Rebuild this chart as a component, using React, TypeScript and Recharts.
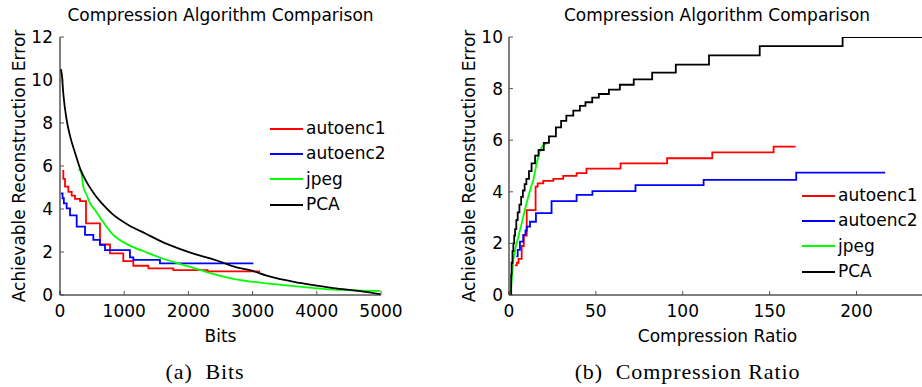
import { LineChart, Line, XAxis, YAxis, Legend, Label } from 'recharts';

const FONT = '"DejaVu Sans", sans-serif';

const seriesNames = ['autoenc1', 'autoenc2', 'jpeg', 'PCA'];

// (a) error against bits
const pcaBits = [15, 30, 52, 104, 156, 234, 312, 441, 545, 649, 805, 1064, 1324, 1584, 1843, 2103, 2363, 2545, 2700, 3000, 3220, 3738, 4257, 4700, 4990];
const pcaBitsErr = [10.5, 10.2, 9.35, 8.14, 7.4, 6.62, 5.89, 5.12, 4.65, 4.27, 3.8, 3.26, 2.87, 2.48, 2.17, 1.9, 1.68, 1.5, 1.33, 1.12, 0.9, 0.56, 0.32, 0.17, 0.04];
const ae1Bits = [36, 52, 78, 130, 182, 234, 312, 405, 623, 779, 986, 1142, 1376, 1765, 2300, 3115];
const ae1BitsErr = [5.77, 5.4, 5.04, 4.8, 4.62, 4.47, 4.37, 3.33, 2.35, 1.94, 1.58, 1.36, 1.24, 1.16, 1.1, 1.1];
const ae2Bits = [16, 40, 60, 104, 156, 260, 390, 519, 623, 701, 1090, 1142, 1557, 3011];
const ae2BitsErr = [4.73, 4.5, 4.26, 4.03, 3.7, 3.18, 2.8, 2.56, 2.33, 2.09, 1.75, 1.63, 1.47, 1.47];
const jpegBits = [286, 312, 338, 363, 415, 467, 545, 649, 805, 1064, 1324, 1584, 1843, 2103, 2300, 2700, 3220, 3738, 4257, 4700, 4990];
const jpegBitsErr = [5.81, 5.81, 5.58, 5.04, 4.65, 4.27, 3.95, 3.49, 2.87, 2.33, 2.01, 1.71, 1.47, 1.24, 1.05, 0.75, 0.54, 0.39, 0.25, 0.2, 0.19];

// (b) error against compression ratio
const pcaRatio = [1, 1.25, 1.5, 2, 2.5, 3, 3.5, 4.2, 5, 6, 7, 8, 9, 10, 11.5, 13, 15, 17, 20, 23, 27, 30, 33, 37, 40.8, 44, 47.9, 51.7, 57.5, 63.8, 71.8, 82.4, 96, 115.1, 144.3, 192, 240];
const pcaRatioErr = [0, 0.8, 1.25, 1.7, 2.0, 2.3, 2.55, 2.9, 3.2, 3.5, 3.8, 4.05, 4.3, 4.5, 4.8, 5.1, 5.4, 5.62, 5.9, 6.15, 6.5, 6.75, 6.95, 7.15, 7.33, 7.47, 7.65, 7.79, 7.96, 8.15, 8.36, 8.62, 8.93, 9.29, 9.65, 10.0, 10.0];
const ae1Ratio = [3.4, 4.5, 5.5, 7.3, 8.5, 10.2, 15.3, 16.5, 19.7, 25.5, 31.2, 38.9, 44.6, 64.2, 91, 117, 152.3, 165];
const ae1RatioErr = [1.15, 1.25, 1.4, 1.9, 2.3, 3.29, 4.2, 4.33, 4.42, 4.5, 4.62, 4.72, 4.9, 5.1, 5.3, 5.53, 5.75, 5.75];
const ae2Ratio = [4.2, 5, 6.3, 8.2, 9.5, 10.2, 12.1, 15.5, 24.5, 38.9, 48, 72.8, 112, 165.3, 216.5];
const ae2RatioErr = [1.5, 1.75, 2.07, 2.33, 2.5, 2.65, 2.84, 3.17, 3.64, 3.88, 4.03, 4.26, 4.46, 4.74, 4.74];
const jpegRatio = [1, 2.5, 4, 5.4, 7, 8.2, 9.5, 11.1, 12.5, 14, 15.9, 17.8, 19.7, 21.7];
const jpegRatioErr = [0.1, 1.36, 1.9, 2.26, 2.7, 3.03, 3.4, 3.81, 4.15, 4.46, 5.1, 5.62, 5.81, 5.88];

const bitsTicks = [0, 1000, 2000, 3000, 4000, 5000];
const ratioTicks = [0, 50, 100, 150, 200];
const bitsErrTicks = [0, 2, 4, 6, 8, 10, 12];
const ratioErrTicks = [0, 2, 4, 6, 8, 10];

const toPoints = (xs: number[], ys: number[]) => xs.map((x, i) => ({ x, y: ys[i] }));

const tickStyle = { fill: '#000', fontSize: 17, fontFamily: FONT };

// keep the plotting order, recharts sorts the payload by name otherwise
const LegendBox = ({ payload }: any) => {
  const items = [...(payload || [])].sort((a: any, b: any) => seriesNames.indexOf(a.value) - seriesNames.indexOf(b.value));
  return (
    <div style={{ fontFamily: FONT, fontSize: 17, color: '#000' }}>
      {items.map((p: any) => (
        <div key={p.value} style={{ display: 'flex', alignItems: 'center', height: 25.3 }}>
          <svg width={33} height={4} style={{ display: 'block' }}>
            <line x1={0} y1={2} x2={33} y2={2} stroke={p.color} strokeWidth={1.8} />
          </svg>
          <span style={{ marginLeft: 3, lineHeight: '17px' }}>{p.value}</span>
        </div>
      ))}
    </div>
  );
};

const yLabel = (bx: number) => (props: any) => {
  const vb = props.viewBox;
  const cy = vb.y + vb.height / 2;
  return (
    <text x={bx} y={cy} transform={`rotate(-90, ${bx}, ${cy})`} textAnchor="middle" fill="#000" fontSize={17} fontFamily={FONT}>
      Achievable Reconstruction Error
    </text>
  );
};

const xLabel = (text: string) => (props: any) => {
  const vb = props.viewBox;
  return (
    <text x={vb.x + vb.width / 2} y={342} textAnchor="middle" fill="#000" fontSize={17} fontFamily={FONT}>
      {text}
    </text>
  );
};

const titleStyle = (center: number): React.CSSProperties => ({
  position: 'absolute', left: center - 200, width: 400, top: 7, textAlign: 'center',
  fontFamily: FONT, fontSize: 17, lineHeight: '17px', color: '#000',
});

const captionStyle = (center: number): React.CSSProperties => ({
  position: 'absolute', left: center - 150, width: 300, top: 361, textAlign: 'center',
  fontFamily: '"Liberation Serif", serif', fontSize: 22, lineHeight: '22px', letterSpacing: 0.9,
  whiteSpace: 'pre', color: '#000',
});

export default function App() {
  return (
    <div style={{ position: 'fixed', left: 0, top: 0, width: 922, height: 387, overflow: 'hidden', background: '#fff' }}>
      <div style={titleStyle(220.5)}>Compression Algorithm Comparison</div>
      <div style={titleStyle(717)}>Compression Algorithm Comparison</div>

      <div style={{ position: 'absolute', left: 0, top: 0 }}>
        <LineChart width={460} height={355} margin={{ top: 37, right: 79, bottom: 30, left: 0 }}>
          <XAxis type="number" dataKey="x" domain={[0, 5000]} ticks={bitsTicks} interval={0} allowDataOverflow
            height={30} tickSize={-4} tickMargin={14} tick={tickStyle}
            axisLine={{ stroke: '#000' }} tickLine={{ stroke: '#555' }}>
            <Label content={xLabel('Bits')} />
          </XAxis>
          <YAxis type="number" dataKey="y" domain={[0, 12]} ticks={bitsErrTicks} interval={0} allowDataOverflow
            width={60} tickSize={-4} tickMargin={11} tick={tickStyle}
            axisLine={{ stroke: '#000' }} tickLine={{ stroke: '#555' }}>
            <Label content={yLabel(25)} />
          </YAxis>
          <Legend layout="vertical" align="center" verticalAlign="middle" content={<LegendBox />}
            wrapperStyle={{ left: 270, top: 116, width: 'auto' }} />
          <Line data={toPoints(ae1Bits, ae1BitsErr)} dataKey="y" name="autoenc1" type="stepAfter" stroke="#ff0000" strokeWidth={1.8} dot={false} isAnimationActive={false} />
          <Line data={toPoints(ae2Bits, ae2BitsErr)} dataKey="y" name="autoenc2" type="stepAfter" stroke="#0000ff" strokeWidth={1.8} dot={false} isAnimationActive={false} />
          <Line data={toPoints(jpegBits, jpegBitsErr)} dataKey="y" name="jpeg" type="monotone" stroke="#00ff00" strokeWidth={1.8} dot={false} isAnimationActive={false} />
          <Line data={toPoints(pcaBits, pcaBitsErr)} dataKey="y" name="PCA" type="monotone" stroke="#000000" strokeWidth={1.8} dot={false} isAnimationActive={false} />
        </LineChart>
      </div>

      <div style={{ position: 'absolute', left: 460, top: 0 }}>
        <LineChart width={480} height={355} margin={{ top: 37, right: 14, bottom: 30, left: 0 }}>
          <XAxis type="number" dataKey="x" domain={[0, 240]} ticks={ratioTicks} interval={0} allowDataOverflow
            height={30} tickSize={-4} tickMargin={14} tick={tickStyle}
            axisLine={{ stroke: '#000' }} tickLine={{ stroke: '#555' }}>
            <Label content={xLabel('Compression Ratio')} />
          </XAxis>
          <YAxis type="number" dataKey="y" domain={[0, 10]} ticks={ratioErrTicks} interval={0} allowDataOverflow
            width={49} tickSize={-4} tickMargin={10} tick={tickStyle}
            axisLine={{ stroke: '#000' }} tickLine={{ stroke: '#555' }}>
            <Label content={yLabel(14.5)} />
          </YAxis>
          <Legend layout="vertical" align="center" verticalAlign="middle" content={<LegendBox />}
            wrapperStyle={{ left: 342, top: 183, width: 'auto' }} />
          <Line data={toPoints(ae1Ratio, ae1RatioErr)} dataKey="y" name="autoenc1" type="stepAfter" stroke="#ff0000" strokeWidth={1.8} dot={false} isAnimationActive={false} />
          <Line data={toPoints(ae2Ratio, ae2RatioErr)} dataKey="y" name="autoenc2" type="stepAfter" stroke="#0000ff" strokeWidth={1.8} dot={false} isAnimationActive={false} />
          <Line data={toPoints(jpegRatio, jpegRatioErr)} dataKey="y" name="jpeg" type="linear" stroke="#00ff00" strokeWidth={1.8} dot={false} isAnimationActive={false} />
          <Line data={toPoints(pcaRatio, pcaRatioErr)} dataKey="y" name="PCA" type="stepAfter" stroke="#000000" strokeWidth={1.8} dot={false} isAnimationActive={false} />
        </LineChart>
      </div>

      <div style={captionStyle(205)}>{'(a)  Bits'}</div>
      <div style={captionStyle(687.5)}>{'(b)  Compression Ratio'}</div>
    </div>
  );
}
